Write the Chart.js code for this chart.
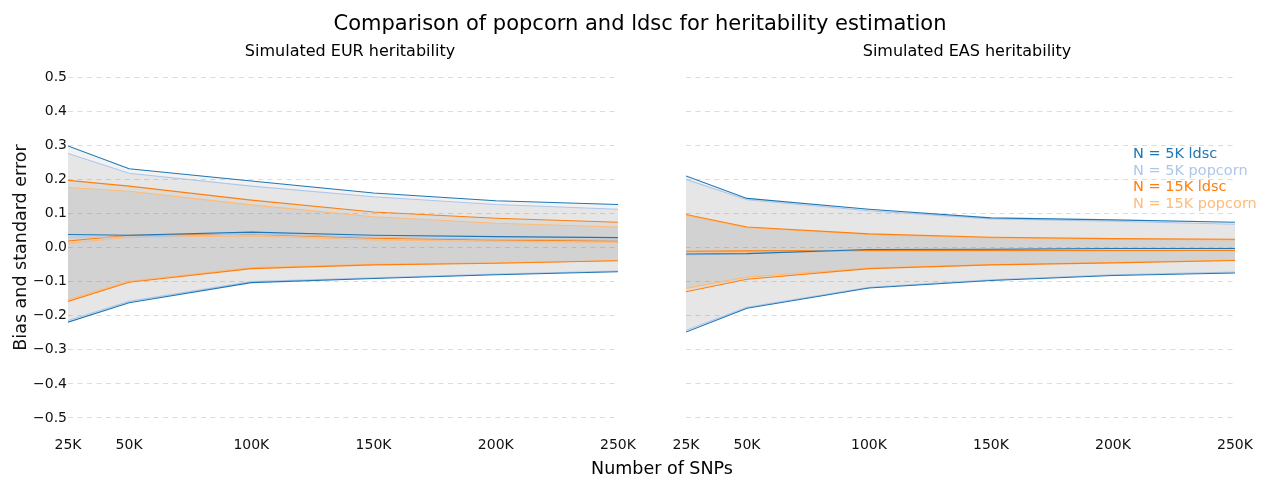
<!DOCTYPE html>
<html>
<head>
<meta charset="utf-8">
<script src="https://cdn.jsdelivr.net/npm/chart.js@4.4.1/dist/chart.umd.min.js"></script>
<style>
  body { margin: 0; background: #fff; font-family: "DejaVu Sans", sans-serif; }
  #page { position: relative; width: 1266px; height: 481px; overflow: hidden; }
  canvas { position: absolute; top: 0; }
  #eurChart { left: 0; }
  #easChart { left: 646px; }
  .txt { position: absolute; color: #000; white-space: nowrap; text-align: center; z-index: 2; }
  #suptitle { left: 240px; width: 800px; top: 11px; font-size: 21px; line-height: 24px; }
  #eurTitle { left: 150px; width: 400px; top: 41px; font-size: 16px; line-height: 20px; }
  #easTitle { left: 767px; width: 400px; top: 41px; font-size: 16px; line-height: 20px; }
  #xlabel { left: 462px; width: 400px; top: 457px; font-size: 17.5px; line-height: 22px; }
  #legend { position: absolute; left: 1133px; top: 145px; font-size: 14.5px; line-height: 16.5px; z-index: 2; white-space: nowrap; }
</style>
</head>
<body>
<div id="page">
  <div class="txt" id="suptitle">Comparison of popcorn and ldsc for heritability estimation</div>
  <div class="txt" id="eurTitle">Simulated EUR heritability</div>
  <div class="txt" id="easTitle">Simulated EAS heritability</div>
  <canvas id="eurChart" width="640" height="481"></canvas>
  <canvas id="easChart" width="620" height="481"></canvas>
  <div class="txt" id="xlabel">Number of SNPs</div>
  <div id="legend"></div>
</div>
<script>
// number of SNPs, in thousands
const snps = [25, 50, 100, 150, 200, 250];
const xTickLabels = ["25K", "50K", "100K", "150K", "200K", "250K"];
const yTicks = [-0.5, -0.4, -0.3, -0.2, -0.1, 0, 0.1, 0.2, 0.3, 0.4, 0.5];
const yTickLabels = ["\u22120.5", "\u22120.4", "\u22120.3", "\u22120.2", "\u22120.1", "0.0", "0.1", "0.2", "0.3", "0.4", "0.5"];

const seriesNames = ["N = 5K ldsc", "N = 5K popcorn", "N = 15K ldsc", "N = 15K popcorn"];
const seriesColors = ["#1f77b4", "#aec7e8", "#ff7f0e", "#ffbb78"];

// EUR: mean bias and mean +/- standard error
const eur5kLdscUpper = [0.298, 0.231, 0.195, 0.160, 0.137, 0.126];
const eur5kLdscMean = [0.038, 0.036, 0.045, 0.036, 0.032, 0.029];
const eur5kLdscLower = [-0.219, -0.162, -0.103, -0.091, -0.080, -0.071];
const eur5kPopUpper = [0.276, 0.218, 0.180, 0.149, 0.126, 0.112];
const eur5kPopMean = [0.031, 0.030, 0.040, 0.030, 0.024, 0.022];
const eur5kPopLower = [-0.214, -0.158, -0.100, -0.089, -0.078, -0.069];
const eur15kLdscUpper = [0.197, 0.180, 0.139, 0.104, 0.086, 0.074];
const eur15kLdscMean = [0.019, 0.036, 0.039, 0.027, 0.022, 0.019];
const eur15kLdscLower = [-0.158, -0.102, -0.062, -0.051, -0.046, -0.039];
const eur15kPopUpper = [0.176, 0.165, 0.125, 0.090, 0.071, 0.060];
const eur15kPopMean = [0.012, 0.030, 0.034, 0.022, 0.018, 0.015];
const eur15kPopLower = [-0.153, -0.099, -0.059, -0.049, -0.045, -0.038];

// EAS
const eas5kLdscUpper = [0.210, 0.144, 0.112, 0.087, 0.081, 0.074];
const eas5kLdscMean = [-0.019, -0.018, -0.006, -0.005, -0.003, -0.003];
const eas5kLdscLower = [-0.248, -0.178, -0.119, -0.097, -0.082, -0.075];
const eas5kPopUpper = [0.200, 0.140, 0.108, 0.084, 0.077, 0.068];
const eas5kPopMean = [-0.022, -0.018, -0.005, -0.006, -0.002, -0.002];
const eas5kPopLower = [-0.243, -0.175, -0.117, -0.095, -0.080, -0.072];
const eas15kLdscUpper = [0.097, 0.060, 0.040, 0.030, 0.026, 0.024];
const eas15kLdscMean = [-0.011, -0.010, -0.009, -0.009, -0.009, -0.009];
const eas15kLdscLower = [-0.130, -0.093, -0.062, -0.051, -0.045, -0.038];
const eas15kPopUpper = [0.094, 0.058, 0.038, 0.028, 0.024, 0.022];
const eas15kPopMean = [-0.013, -0.014, -0.011, -0.011, -0.010, -0.008];
const eas15kPopLower = [-0.120, -0.087, -0.060, -0.050, -0.044, -0.037];

const eurBands = [
  [eur5kLdscUpper, eur5kLdscMean, eur5kLdscLower],
  [eur5kPopUpper, eur5kPopMean, eur5kPopLower],
  [eur15kLdscUpper, eur15kLdscMean, eur15kLdscLower],
  [eur15kPopUpper, eur15kPopMean, eur15kPopLower],
];
const easBands = [
  [eas5kLdscUpper, eas5kLdscMean, eas5kLdscLower],
  [eas5kPopUpper, eas5kPopMean, eas5kPopLower],
  [eas15kLdscUpper, eas15kLdscMean, eas15kLdscLower],
  [eas15kPopUpper, eas15kPopMean, eas15kPopLower],
];

const toPoints = (values) => snps.map((x, i) => ({ x: x, y: values[i] }));

const lineDataset = (values, color, fill) => ({
  data: toPoints(values),
  borderColor: color,
  borderWidth: 1.1,
  backgroundColor: "rgba(128, 128, 128, 0.1)",
  pointRadius: 0,
  tension: 0,
  fill: fill,
});

// upper, mean, lower per series; the lower line fills back to its upper line
const buildDatasets = (bands) => {
  const datasets = [];
  bands.forEach((band, i) => {
    const color = seriesColors[i];
    datasets.push(lineDataset(band[0], color, false));
    datasets.push(lineDataset(band[1], color, false));
    datasets.push(lineDataset(band[2], color, "-2"));
  });
  return datasets;
};

const tickFont = { family: "DejaVu Sans", size: 14 };

const buildOptions = (showYLabels, padding) => ({
  responsive: false,
  animation: false,
  events: [],
  layout: { padding: padding },
  plugins: {
    legend: { display: false },
    tooltip: { enabled: false },
    filler: { drawTime: "beforeDatasetsDraw" },
  },
  scales: {
    x: {
      type: "linear",
      min: 25,
      max: 250,
      grid: { display: false, drawTicks: false },
      border: { display: false },
      afterBuildTicks: (scale) => {
        scale.ticks = snps.map((v) => ({ value: v }));
      },
      afterFit: (scale) => {
        scale.height = 19;
      },
      ticks: {
        color: "#111",
        font: tickFont,
        padding: 2,
        maxRotation: 0,
        callback: (value) => xTickLabels[snps.indexOf(value)],
      },
    },
    y: {
      min: -0.55,
      max: 0.55,
      // dashed horizontal grid lines, no axis line
      border: { display: false, dash: [5, 4.5] },
      grid: { color: "#dcdcdc", lineWidth: 1, drawTicks: false },
      afterBuildTicks: (scale) => {
        scale.ticks = yTicks.map((v) => ({ value: v }));
      },
      afterFit: (scale) => {
        scale.width = showYLabels ? 68 : 0;
      },
      ticks: {
        display: showYLabels,
        color: "#111",
        font: tickFont,
        padding: 1,
        callback: (value) => yTickLabels[yTicks.findIndex((t) => Math.abs(t - value) < 1e-9)],
      },
      title: {
        display: showYLabels,
        text: "Bias and standard error",
        color: "#111",
        font: { family: "DejaVu Sans", size: 17.5, lineHeight: 1 },
        padding: { top: 13, bottom: 0 },
      },
    },
  },
});

new Chart(document.getElementById("eurChart"), {
  type: "line",
  data: { datasets: buildDatasets(eurBands) },
  options: buildOptions(true, { top: 60, left: 0, right: 22, bottom: 27 }),
});

new Chart(document.getElementById("easChart"), {
  type: "line",
  data: { datasets: buildDatasets(easBands) },
  options: buildOptions(false, { top: 60, left: 40, right: 31, bottom: 27 }),
});

const legend = document.getElementById("legend");
seriesNames.forEach((name, i) => {
  const row = document.createElement("div");
  row.textContent = name;
  row.style.color = seriesColors[i];
  legend.appendChild(row);
});
</script>
</body>
</html>
